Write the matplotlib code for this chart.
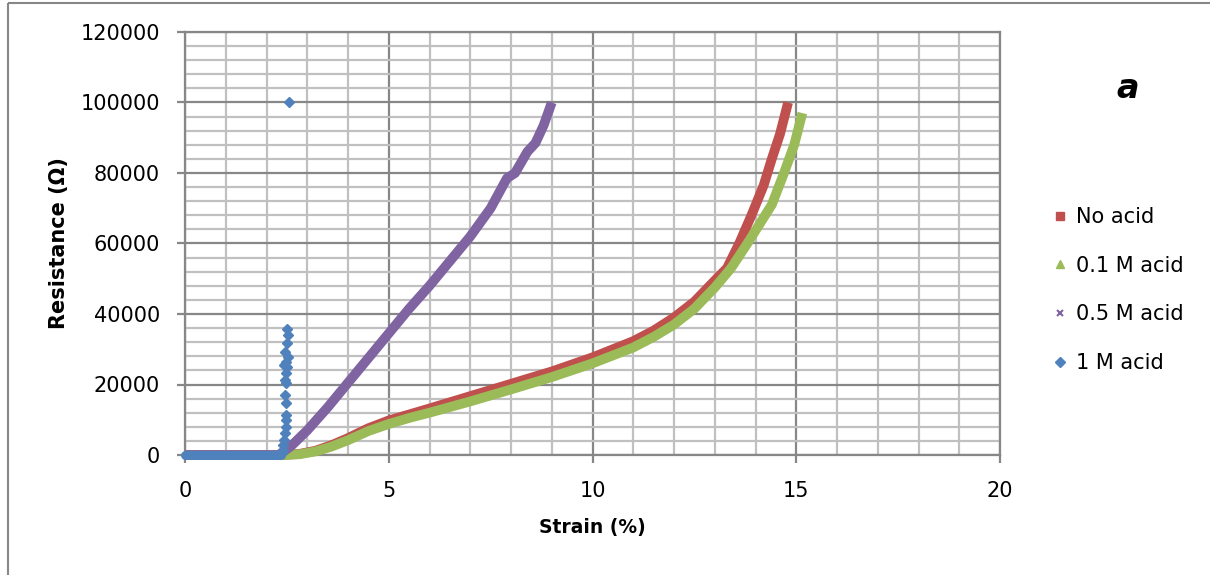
import matplotlib.pyplot as plt
from matplotlib.lines import Line2D
from matplotlib.ticker import MultipleLocator

# No acid
red_x = [0, 2.4, 2.8, 3.2, 3.6, 4.0, 4.5, 5.0, 5.5, 6.0, 7.0, 8.0, 9.0, 10.0,
         11.0, 11.5, 12.0, 12.5, 13.0, 13.3, 13.6, 13.9, 14.2, 14.4, 14.6, 14.8]
red_y = [0, 0, 300, 1200, 2800, 4800, 7600, 9800, 11500, 13200, 16700, 20200,
         23700, 27700, 32300, 35300, 39000, 43500, 49500, 53000, 60000, 68000,
         76500, 84000, 91000, 100000]

# 0.1 M acid
green_x = [0, 2.4, 2.8, 3.2, 3.6, 4.0, 4.5, 5.0, 5.5, 6.0, 7.0, 8.0, 9.0, 10.0,
           11.0, 11.5, 12.0, 12.5, 13.0, 13.4, 13.8, 14.1, 14.4, 14.7, 14.95, 15.15]
green_y = [0, 0, 200, 1000, 2400, 4200, 6800, 8800, 10500, 12000, 15200, 18600,
           22100, 26000, 30500, 33500, 37000, 41500, 47500, 53000, 60000, 65500,
           71000, 80000, 88000, 97000]

# 0.5 M acid
purple_x = [0, 2.3, 2.6, 3.0, 3.5, 4.0, 4.5, 5.0, 5.5, 6.0, 6.5, 7.0, 7.5, 7.9,
            8.1, 8.4, 8.6, 8.8, 9.0]
purple_y = [0, 0, 2500, 7000, 13500, 20500, 27500, 34500, 41500, 48000, 55000,
            62000, 70000, 78500, 80000, 86000, 88500, 93500, 100000]

# 1 M acid
blue_base_x = [0, 2.35]
blue_base_y = [0, 0]
blue_x = [2.50, 2.52, 2.50, 2.45, 2.52, 2.48, 2.44, 2.50, 2.47, 2.46, 2.48,
          2.46, 2.47, 2.48, 2.49, 2.47, 2.45, 2.43, 2.41, 2.40, 2.38, 2.56]
blue_y = [35700, 34000, 31700, 29300, 27900, 26500, 25500, 25000, 23200, 21300,
          20300, 17000, 14800, 11300, 9900, 8000, 6100, 4300, 2800, 1500, 500,
          100000]

c_red = '#c0504d'
c_green = '#9bbb59'
c_purple = '#8064a2'
c_blue = '#4f81bd'

fig = plt.figure(figsize=(12.1, 5.75), dpi=100)
ax = fig.add_axes([185/1210, 1 - 455/575, 815/1210, 423/575])

ax.plot(red_x, red_y, color=c_red, lw=7, solid_capstyle='butt', clip_on=False, zorder=3)
ax.plot(green_x, green_y, color=c_green, lw=7, solid_capstyle='butt', clip_on=False, zorder=4)
ax.plot(purple_x, purple_y, color=c_purple, lw=7, solid_capstyle='butt', clip_on=False, zorder=5)
ax.plot(blue_base_x, blue_base_y, color=c_blue, lw=6.5, solid_capstyle='round', clip_on=False, zorder=6)
ax.plot(blue_x, blue_y, ls='none', marker='D', ms=5.5, color=c_blue, clip_on=False, zorder=6)

ax.set_xlim(0, 20)
ax.set_ylim(0, 120000)
ax.xaxis.set_major_locator(MultipleLocator(5))
ax.xaxis.set_minor_locator(MultipleLocator(1))
ax.yaxis.set_major_locator(MultipleLocator(20000))
ax.yaxis.set_minor_locator(MultipleLocator(4000))

ax.grid(which='major', color='#878787', lw=1.6, zorder=0)
ax.grid(which='minor', color='#c0c0c0', lw=1.6, zorder=0)
ax.set_axisbelow(True)
for s in ax.spines.values():
    s.set_color('#878787')
    s.set_linewidth(1.6)

ax.tick_params(which='major', direction='out', length=6, width=1.6, color='#878787',
               labelsize=15)
ax.tick_params(axis='x', which='major', pad=13)
ax.tick_params(axis='y', which='major', pad=12)
ax.tick_params(which='minor', length=0)

ax.set_xlabel('Strain (%)', fontsize=13.5, fontweight='bold', labelpad=12)
ax.set_ylabel('Resistance (Ω)', fontsize=15, fontweight='bold', labelpad=8)

fig.text(1128/1210, 1 - 88/575, 'a', fontsize=24, fontweight='bold', style='italic',
         ha='center', va='center')

handles = [
    Line2D([], [], ls='none', marker='s', ms=6, color=c_red),
    Line2D([], [], ls='none', marker='^', ms=6, color=c_green),
    Line2D([], [], ls='none', marker='x', ms=5, mew=1.5, color=c_purple),
    Line2D([], [], ls='none', marker='D', ms=5, color=c_blue),
]
labels = ['No acid', '0.1 M acid', '0.5 M acid', '1 M acid']
fig.legend(handles, labels, loc='center left', bbox_to_anchor=(1045/1210, 1 - 290/575),
           frameon=False, fontsize=15, handlelength=0.6, handletextpad=0.5,
           labelspacing=1.38, borderaxespad=0)

# outer chart frame (left and top edges visible)
fig.add_artist(Line2D([8/1210, 8/1210], [0, 1 - 3/575], transform=fig.transFigure,
                      color='#878787', lw=1.5, solid_capstyle='butt'))
fig.add_artist(Line2D([8/1210, 1.01], [1 - 3/575, 1 - 3/575], transform=fig.transFigure,
                      color='#878787', lw=1.5, solid_capstyle='butt'))

fig.savefig('out.png', dpi=100)
